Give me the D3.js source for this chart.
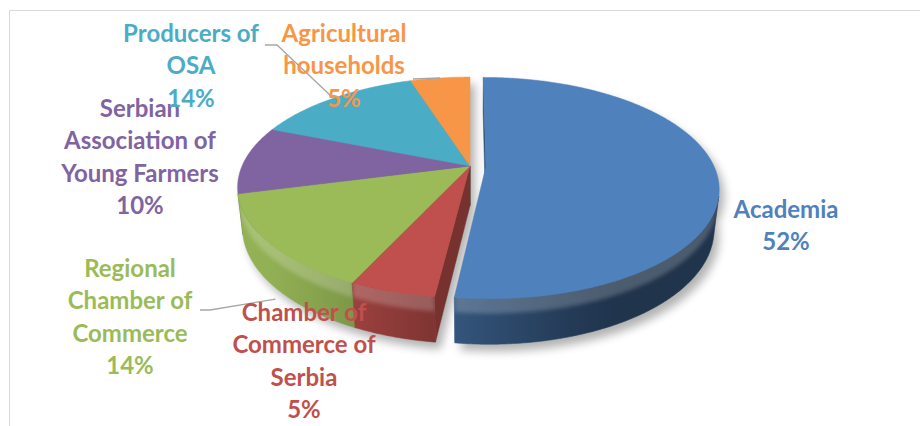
<!DOCTYPE html>
<html>
<head>
<meta charset="utf-8">
<script src="https://cdn.jsdelivr.net/npm/d3@7"></script>
<style>
  body { margin: 0; background: #fff; }
  svg { display: block; font-family: Lato, "Open Sans", sans-serif; }
</style>
</head>
<body>
<div id="chart"></div>
<script>
// 3D pie of stakeholder groups
const categories = ["Academia", "Chamber of Commerce of Serbia", "Regional Chamber of Commerce",
    "Serbian Association of Young Farmers", "Producers of OSA", "Agricultural households"];
const values = [52, 5, 14, 10, 14, 5];
const colors = ["#4F81BD", "#C0504D", "#9BBB59", "#8064A2", "#4BACC6", "#F79646"];
const labelLines = [
    ["Academia"],
    ["Chamber of", "Commerce of", "Serbia"],
    ["Regional", "Chamber of", "Commerce"],
    ["Serbian", "Association of", "Young Farmers"],
    ["Producers of", "OSA"],
    ["Agricultural", "households"]
];
const explode = [0.07, 0, 0, 0, 0, 0];

// label layout (first baseline, centre x)
const labelPos = [
    { x: 786, y: 218 }, { x: 304, y: 321 }, { x: 130, y: 277 },
    { x: 140, y: 117 }, { x: 191, y: 42 }, { x: 344, y: 42 }
];
const lineHeight = 32.3;

const width = 920, height = 426;
const svg = d3.select("#chart").append("svg")
    .attr("width", width)
    .attr("height", height);

const defs = svg.append("defs");
defs.append("filter").attr("id", "blur")
    .attr("x", "-20%").attr("y", "-20%").attr("width", "140%").attr("height", "140%")
    .append("feGaussianBlur").attr("stdDeviation", 5);
defs.append("filter").attr("id", "soft")
    .attr("x", "-10%").attr("y", "-50%").attr("width", "120%").attr("height", "200%")
    .append("feGaussianBlur").attr("stdDeviation", 2.2);

// chart area frame
svg.append("path")
    .attr("d", `M9.5,${height} V10.5 H${width}`)
    .attr("fill", "none")
    .attr("stroke", "#d9d9d9")
    .attr("stroke-width", 1);

// perspective projection
const cx = 470, cy = 166;
const D = 4.545, focal = 1036, thick = 0.2;
const phi = Math.asin(0.466);
const cosP = Math.cos(phi), sinP = Math.sin(phi);
const cam = [0, D * sinP, D * cosP];

function project([X, h, Z]) {
    const up = h * cosP - Z * sinP;
    const dist = D - (h * sinP + Z * cosP);
    return [cx + focal * X / dist, cy - focal * up / dist];
}
function camDist([X, h, Z]) {
    return D - (h * sinP + Z * cosP);
}

const arcs = d3.pie().sort(null).value(d => d)(values);
const line = d3.line();

const slices = arcs.map((a, i) => {
    const mid = (a.startAngle + a.endAngle) / 2;
    const off = [explode[i] * Math.sin(mid), -explode[i] * Math.cos(mid)];
    const steps = Math.max(8, Math.ceil((a.endAngle - a.startAngle) / (Math.PI / 360)));
    const angles = d3.range(steps + 1).map(k => a.startAngle + (a.endAngle - a.startAngle) * k / steps);
    const rim = (t, h) => [off[0] + Math.sin(t), h, off[1] - Math.cos(t)];
    return { i, a, mid, off, angles, rim, color: colors[i] };
});

function shade(c, k) {
    const r = d3.rgb(c);
    return d3.rgb(Math.min(255, r.r * k), Math.min(255, r.g * k), Math.min(255, r.b * k)).formatHex();
}

// shadow
const shadowG = svg.append("g")
    .attr("filter", "url(#blur)")
    .attr("transform", "translate(5,7)")
    .attr("opacity", 0.3);
slices.forEach(s => {
    [0, -thick].forEach(h => {
        const pts = [[s.off[0], h, s.off[1]], ...s.angles.map(t => s.rim(t, h))].map(project);
        shadowG.append("path").attr("d", line(pts) + "Z").attr("fill", "#000");
    });
});

// radial faces
const radial = [];
slices.forEach(s => {
    const apexT = [s.off[0], 0, s.off[1]];
    const apexB = [s.off[0], -thick, s.off[1]];
    [[s.a.startAngle, -1], [s.a.endAngle, 1]].forEach(([t, sgn]) => {
        const n = [sgn * Math.cos(t), sgn * Math.sin(t)];
        const vis = n[0] * (cam[0] - s.off[0]) + n[1] * (cam[2] - s.off[1]);
        if (vis <= 1e-6) return;
        const pts = [apexT, s.rim(t, 0), s.rim(t, -thick), apexB];
        const cen = [0, 1, 2].map(k => d3.mean(pts, p => p[k]));
        radial.push({ pts: pts.map(project), dist: camDist(cen), fill: shade(s.color, 0.62) });
    });
});
radial.sort((p, q) => q.dist - p.dist);
svg.append("g").selectAll("path")
    .data(radial)
    .join("path")
    .attr("d", d => line(d.pts) + "Z")
    .attr("fill", d => d.fill)
    .attr("stroke", d => d.fill)
    .attr("stroke-width", 0.5);

// curved outer sides: gradient by angle plus a soft bevel highlight along the top rim
const baseShade = t => 0.4 + 0.55 * Math.pow(Math.max(0, Math.cos(t - 240 * Math.PI / 180)), 1.5);
const sides = [];
slices.forEach(s => {
    const vt = s.angles.filter(t => {
        const p = s.rim(t, 0);
        return Math.sin(t) * (cam[0] - p[0]) - Math.cos(t) * (cam[2] - p[2]) > -0.02;
    });
    if (vt.length < 2) return;
    const xs = vt.map(t => project(s.rim(t, 0))[0]);
    const x0 = d3.min(xs), x1 = d3.max(xs);
    const midT = vt[Math.floor(vt.length / 2)];
    const id = `side-${s.i}`;
    const grad = defs.append("linearGradient")
        .attr("id", id)
        .attr("gradientUnits", "userSpaceOnUse")
        .attr("x1", x0).attr("x2", x1).attr("y1", 0).attr("y2", 0);
    const stops = vt.map((t, j) => ({ o: (xs[j] - x0) / Math.max(1e-6, x1 - x0), c: shade(s.color, baseShade(t)) }))
        .sort((p, q) => p.o - q.o);
    grad.selectAll("stop").data(stops).join("stop")
        .attr("offset", d => d.o)
        .attr("stop-color", d => d.c);
    const full = vt.map(t => s.rim(t, 0)).concat(vt.slice().reverse().map(t => s.rim(t, -thick))).map(project);
    const band = vt.map(t => s.rim(t, 0.02)).concat(vt.slice().reverse().map(t => s.rim(t, -thick * 0.32))).map(project);
    defs.append("clipPath").attr("id", `clip-${s.i}`)
        .append("path").attr("d", line(full) + "Z");
    sides.push({ d: line(full) + "Z", band: line(band) + "Z", id, i: s.i, dist: camDist(s.rim(midT, 0)) });
});
sides.sort((p, q) => q.dist - p.dist);
const sideG = svg.append("g").selectAll("g")
    .data(sides)
    .join("g");
sideG.append("path")
    .attr("d", d => d.d)
    .attr("fill", d => `url(#${d.id})`)
    .attr("stroke", d => `url(#${d.id})`)
    .attr("stroke-width", 0.6);
sideG.append("g")
    .attr("clip-path", d => `url(#clip-${d.i})`)
    .append("path")
    .attr("d", d => d.band)
    .attr("fill", "#fff")
    .attr("opacity", 0.2)
    .attr("filter", "url(#soft)");

// top faces
svg.append("g").selectAll("path")
    .data(slices)
    .join("path")
    .attr("d", s => line([[s.off[0], 0, s.off[1]], ...s.angles.map(t => s.rim(t, 0))].map(project)) + "Z")
    .attr("fill", s => s.color)
    .attr("stroke", s => s.color)
    .attr("stroke-width", 0.5);

// leader lines
const anchor = (i, h) => project(slices[i].rim(slices[i].mid, h));
const leaders = [
    [[265, 45], [277, 45], anchor(4, 0)],
    [[413, 79], anchor(5, 0)],
    [[200, 310], [210, 310], anchor(2, -thick - 0.06)]
];
svg.append("g").selectAll("path")
    .data(leaders)
    .join("path")
    .attr("d", d => line(d))
    .attr("fill", "none")
    .attr("stroke", "#a6a6a6")
    .attr("stroke-width", 1.3);

// data labels
const labels = svg.append("g")
    .selectAll("text")
    .data(slices)
    .join("text")
    .attr("text-anchor", "middle")
    .attr("font-size", 24)
    .attr("font-weight", 700)
    .attr("fill", s => s.color);

labels.selectAll("tspan")
    .data(s => labelLines[s.i].concat([values[s.i] + "%"]).map((t, k) => ({ t, k, s })))
    .join("tspan")
    .attr("x", d => labelPos[d.s.i].x)
    .attr("y", d => labelPos[d.s.i].y + d.k * lineHeight)
    .text(d => d.t);
</script>
</body>
</html>
